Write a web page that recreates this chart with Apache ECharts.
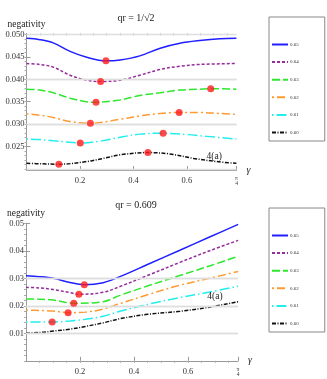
<!DOCTYPE html>
<html lang="en">
<head>
    <meta charset="UTF-8">
    <title>negativity</title>
    <script src="https://cdn.jsdelivr.net/npm/echarts@6/dist/echarts.min.js"></script>
    <style>
        body { margin: 0; background: #fff; }
    </style>
</head>
<body>
    <div id="main" style="width:327px;height:379px;"></div>
    <script>
// F values (legend) and tick labels
var fValues = ['0.65', '0.64', '0.63', '0.62', '0.61', '0.60'];
var xTicks = [0.2, 0.4, 0.6, Math.PI / 4];
var topYTicks = [0.025, 0.030, 0.035, 0.040, 0.045, 0.050];
var botYTicks = [0.01, 0.02, 0.03, 0.04, 0.05];

// qr = 1/sqrt(2)  ([gamma, negativity])
var top65 = [[0,0.0491],[0.05,0.0488],[0.1,0.0481],[0.163,0.0462],[0.225,0.0449],[0.297,0.0441],[0.35,0.0443],[0.424,0.0452],[0.5,0.0469],[0.574,0.0480],[0.648,0.0486],[0.723,0.0490],[0.785,0.0491]];
var top64 = [[0,0.0435],[0.05,0.0433],[0.1,0.0427],[0.163,0.0409],[0.225,0.0398],[0.277,0.0395],[0.35,0.0398],[0.424,0.0409],[0.5,0.0422],[0.574,0.0429],[0.648,0.0433],[0.785,0.0435]];
var top63 = [[0,0.0378],[0.05,0.0376],[0.1,0.0370],[0.163,0.0358],[0.225,0.0350],[0.26,0.0349],[0.35,0.0354],[0.424,0.0364],[0.5,0.0370],[0.574,0.0376],[0.648,0.0378],[0.689,0.0379],[0.785,0.0378]];
var top62 = [[0,0.0323],[0.05,0.0320],[0.1,0.0315],[0.163,0.0306],[0.239,0.0302],[0.35,0.0311],[0.43,0.0319],[0.5,0.0324],[0.571,0.0326],[0.648,0.0326],[0.72,0.0324],[0.785,0.0322]];
var top61 = [[0,0.0267],[0.05,0.0266],[0.1,0.0263],[0.163,0.0260],[0.201,0.0258],[0.28,0.0263],[0.35,0.0271],[0.424,0.0278],[0.511,0.0280],[0.6,0.0277],[0.674,0.0273],[0.785,0.0267]];
var top60 = [[0,0.0213],[0.06,0.0212],[0.121,0.0211],[0.225,0.0217],[0.287,0.0224],[0.35,0.0232],[0.454,0.0237],[0.536,0.0234],[0.625,0.0224],[0.711,0.0217],[0.785,0.0213]];
var topDots = [[0.297,0.0441],[0.277,0.0395],[0.26,0.0349],[0.689,0.0379],[0.239,0.0302],[0.571,0.0326],[0.201,0.0258],[0.511,0.0280],[0.121,0.0211],[0.454,0.0237]];
var topBase = [0.0491, 0.0435, 0.0378, 0.0323, 0.0267, 0.0213];

// qr = 0.609
var bot65 = [[0,0.0309],[0.05,0.0306],[0.101,0.0300],[0.163,0.0285],[0.216,0.0277],[0.286,0.0284],[0.348,0.0306],[0.45,0.0350],[0.57,0.0402],[0.68,0.0450],[0.786,0.0496]];
var bot64 = [[0,0.0267],[0.05,0.0265],[0.101,0.0259],[0.163,0.0248],[0.196,0.0242],[0.286,0.0249],[0.348,0.0270],[0.45,0.0310],[0.57,0.0358],[0.68,0.0400],[0.786,0.0438]];
var bot63 = [[0,0.0225],[0.05,0.0224],[0.101,0.0221],[0.177,0.0209],[0.286,0.0215],[0.348,0.0238],[0.45,0.0272],[0.57,0.0310],[0.68,0.0345],[0.786,0.0380]];
var bot62 = [[0,0.0184],[0.05,0.0183],[0.101,0.0181],[0.156,0.0175],[0.22,0.0177],[0.286,0.0188],[0.348,0.0208],[0.45,0.0240],[0.57,0.0275],[0.68,0.0300],[0.786,0.0325]];
var bot61 = [[0,0.0141],[0.05,0.0141],[0.097,0.0141],[0.163,0.0145],[0.22,0.0151],[0.286,0.0162],[0.348,0.0180],[0.45,0.0205],[0.57,0.0230],[0.68,0.0250],[0.786,0.0271]];
var bot60 = [[0,0.0101],[0.05,0.0103],[0.101,0.0108],[0.163,0.0115],[0.22,0.0125],[0.286,0.0138],[0.348,0.0153],[0.45,0.0169],[0.57,0.0180],[0.68,0.0195],[0.786,0.0215]];
var botDots = [[0.216,0.0277],[0.196,0.0242],[0.177,0.0209],[0.156,0.0175],[0.097,0.0141]];
var botBase = [0.0309, 0.0267, 0.0225, 0.0184, 0.0141, 0.0101];

var serif = 'Liberation Serif';
var colors = ['#1f1fff', '#952c9c', '#2ee82e', '#ff9a33', '#22eeee', '#111111'];
var dashes = ['solid', [3, 2], [8, 3], [2, 3, 8, 3], [1.5, 3, 10, 3], [4, 1.5, 1, 1.5]];

function range(a, b, step) {
    var out = [];
    for (var v = a; v <= b + 1e-9; v += step) out.push(+v.toFixed(5));
    return out;
}

function xAxes(gridIndex) {
    var main = {
        type: 'value', gridIndex: gridIndex, min: 0, max: Math.PI / 4,
        name: 'γ', nameLocation: 'end', nameGap: 10,
        nameTextStyle: { fontFamily: serif, fontSize: 10, color: '#222', fontStyle: 'italic' },
        axisLine: { lineStyle: { color: '#999' } },
        axisTick: { inside: true, length: 4, customValues: xTicks, lineStyle: { color: '#999' } },
        axisLabel: {
            customValues: xTicks, margin: 6, fontFamily: serif, fontSize: 8.5, color: '#333',
            formatter: function (v) {
                if (Math.abs(v - Math.PI / 4) < 1e-6) return '{p|π}\n{p|4}';
                return v.toFixed(1);
            },
            rich: { p: { fontSize: 5.5, lineHeight: 5, fontFamily: serif, color: '#333' } }
        },
        splitLine: { show: false }
    };
    var minor = {
        type: 'value', gridIndex: gridIndex, min: 0, max: Math.PI / 4,
        axisLine: { show: false },
        axisTick: { inside: true, length: 2, customValues: range(0.05, 0.75, 0.05), lineStyle: { color: '#aaa' } },
        axisLabel: { show: false },
        splitLine: { show: false }
    };
    return [main, minor];
}

function yAxes(gridIndex, min, max, ticks, digits, minorStep) {
    var main = {
        type: 'value', gridIndex: gridIndex, min: min, max: max,
        name: 'negativity', nameLocation: 'end', nameGap: 4,
        nameTextStyle: { fontFamily: serif, fontSize: 9.5, color: '#222' },
        axisLine: { lineStyle: { color: '#999' } },
        axisTick: { inside: true, length: 4, customValues: ticks, lineStyle: { color: '#999' } },
        axisLabel: {
            customValues: ticks, margin: 2, fontFamily: serif, fontSize: 8.5, color: '#333',
            formatter: function (v) { return v.toFixed(digits); }
        },
        splitLine: { show: false }
    };
    var minor = {
        type: 'value', gridIndex: gridIndex, min: min, max: max,
        axisLine: { show: false },
        axisTick: { inside: true, length: 2, customValues: range(Math.ceil(min / minorStep) * minorStep, max, minorStep), lineStyle: { color: '#aaa' } },
        axisLabel: { show: false },
        splitLine: { show: false }
    };
    return [main, minor];
}

function panelSeries(axis, curves, dots, base, note) {
    var list = [];
    // light grey reference lines at the flat ends of the curves
    list.push({
        type: 'line', xAxisIndex: axis, yAxisIndex: axis, data: [], z: 1, silent: true,
        markLine: {
            silent: true, symbol: 'none', label: { show: false },
            lineStyle: { color: '#dedede', width: 1.3, type: 'solid' },
            data: base.map(function (v) { return { yAxis: v }; })
        }
    });
    curves.forEach(function (data, i) {
        var s = {
            type: 'line', name: fValues[i], xAxisIndex: axis, yAxisIndex: axis,
            data: data, smooth: 0.35, symbol: 'none', z: 3,
            lineStyle: { color: colors[i], width: 1.5, type: dashes[i] },
            itemStyle: { color: colors[i] }
        };
        if (i === curves.length - 1) {
            s.markPoint = {
                symbol: 'circle', symbolSize: 0, silent: true,
                label: { show: true, position: 'inside', formatter: '4(a)', fontFamily: serif, fontSize: 9.5, color: '#222' },
                data: [{ coord: note }]
            };
        }
        list.push(s);
    });
    list.push({
        type: 'scatter', xAxisIndex: axis, yAxisIndex: axis, data: dots, z: 5,
        symbolSize: 7, itemStyle: { color: '#ff1a1a' }
    });
    return list;
}

function legendBox(top, height) {
    return {
        orient: 'vertical', left: 269, top: top, width: 52, height: height,
        padding: [25, 26, 6, 2], itemWidth: 16, itemHeight: 6, itemGap: 12.6,
        data: fValues, selectedMode: false,
        itemStyle: { opacity: 0, borderWidth: 0 },
        backgroundColor: '#fff', borderColor: '#888', borderWidth: 1,
        textStyle: { fontFamily: serif, fontSize: 5, color: '#333', padding: [0, 0, 0, -3] }
    };
}

var myChart = echarts.init(document.getElementById('main'));

var xs = xAxes(0).concat(xAxes(1));
var ys = yAxes(0, 0.0198, 0.0502, topYTicks, 3, 0.001).concat(yAxes(1, 0, 0.05, botYTicks, 2, 0.002));

myChart.setOption({
    animation: false,
    title: [
        { text: 'qr = 1/√2', left: 131, top: 8, textAlign: 'center', textStyle: { fontFamily: serif, fontSize: 10, fontWeight: 'normal', color: '#222' } },
        { text: 'qr = 0.609', left: 131, top: 195, textAlign: 'center', textStyle: { fontFamily: serif, fontSize: 10, fontWeight: 'normal', color: '#222' } }
    ],
    grid: [
        { left: 26.5, top: 33.4, width: 210, height: 136.7, outerBoundsMode: 'none' },
        { left: 26, top: 223.3, width: 212, height: 137.5, outerBoundsMode: 'none' }
    ],
    legend: [legendBox(17, 132), legendBox(208, 131)],
    graphic: [
        { type: 'text', left: 282, top: 25, style: { text: 'F values', font: '5px "Liberation Serif"', fill: '#333' } },
        { type: 'text', left: 282, top: 215, style: { text: 'F values', font: '5px "Liberation Serif"', fill: '#333' } }
    ],
    xAxis: xs,
    yAxis: ys,
    series: panelSeries(0, [top65, top64, top63, top62, top61, top60], topDots, topBase, [0.702, 0.0229])
        .concat(panelSeries(2, [bot65, bot64, bot63, bot62, bot61, bot60], botDots, botBase, [0.700, 0.0233]))
});
    </script>
</body>
</html>
